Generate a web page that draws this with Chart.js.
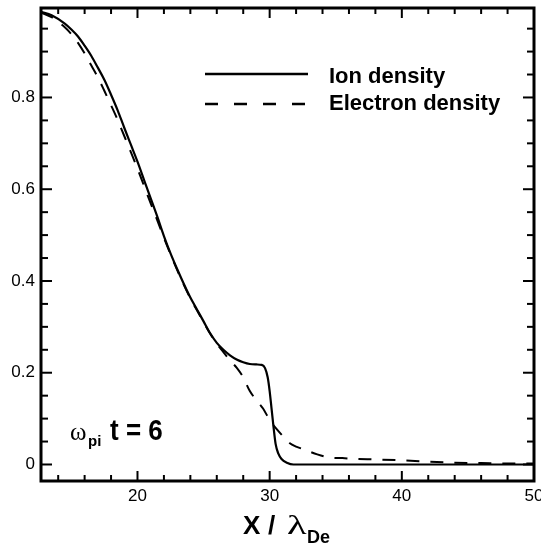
<!DOCTYPE html>
<html>
<head>
<meta charset="utf-8">
<script src="https://cdn.jsdelivr.net/npm/chart.js@4/dist/chart.umd.min.js"></script>
<style>
html, body { margin: 0; padding: 0; background: #fff; overflow: hidden; }
#wrap { width: 560px; height: 547px; }
</style>
</head>
<body>
<div id="wrap"><canvas id="myChart" width="560" height="547"></canvas></div>
<script>
// x / lambda_De  -> density
var xIon = [12.7, 13.5, 14.5, 15.0, 15.5, 16.0, 16.5, 17.0, 17.5, 18.0, 18.5, 19.0, 19.5, 20.0, 20.5, 21.0, 21.5, 22.0, 22.5, 23.0,
            23.5, 24.0, 24.5, 25.0, 25.5, 26.0, 26.5, 27.0, 27.5, 28.0, 28.5, 29.0, 29.4, 29.65, 29.85, 30.0, 30.15, 30.3, 30.45, 30.65,
            30.9, 31.3, 31.8, 50.0];
var ionDensity = [0.987, 0.979, 0.961, 0.948, 0.933, 0.913, 0.891, 0.865, 0.838, 0.806, 0.772, 0.734, 0.697, 0.660, 0.620, 0.580, 0.540, 0.498, 0.460, 0.426,
                  0.394, 0.364, 0.338, 0.312, 0.286, 0.265, 0.250, 0.238, 0.229, 0.223, 0.219, 0.218, 0.217, 0.210, 0.190, 0.160, 0.120, 0.080, 0.045, 0.024,
                  0.012, 0.004, 0.0, 0.0];

var xElectron = [12.7, 13.5, 14.5, 15.0, 15.5, 16.0, 16.5, 17.0, 17.5, 18.0, 18.5, 19.0, 19.5, 20.0, 20.5, 21.0, 21.5, 22.0, 22.5, 23.0,
                 23.5, 24.0, 24.5, 25.0, 25.5, 26.0, 26.5, 27.0, 27.5, 28.0, 28.5, 29.0, 29.5, 30.0, 30.5, 31.0, 31.5, 32.0, 32.6, 33.6,
                 34.6, 35.5, 36.5, 38.0, 40.0, 42.0, 44.0, 46.0, 48.0, 50.0];
var electronDensity = [0.985, 0.975, 0.953, 0.938, 0.919, 0.896, 0.870, 0.844, 0.814, 0.783, 0.751, 0.716, 0.681, 0.645, 0.607, 0.569, 0.532, 0.494, 0.458, 0.424,
                       0.392, 0.362, 0.336, 0.310, 0.285, 0.263, 0.245, 0.227, 0.211, 0.190, 0.160, 0.140, 0.122, 0.097, 0.078, 0.062, 0.047, 0.039, 0.033, 0.022,
                       0.015, 0.014, 0.012, 0.011, 0.009, 0.006, 0.004, 0.003, 0.002, 0.002];

var xTicks = [20, 30, 40, 50];
var yTicks = [0, 0.2, 0.4, 0.6, 0.8];
var seriesNames = ['Ion density', 'Electron density'];

function pairs(xs, ys) {
    return xs.map(function (x, i) { return { x: x, y: ys[i] }; });
}

// frame, inward ticks, legend and text labels
var decor = {
    id: 'decor',
    afterDraw: function (chart) {
        var ctx = chart.ctx, a = chart.chartArea;
        var xs = chart.scales.x, ys = chart.scales.y;
        ctx.save();
        ctx.strokeStyle = '#000';
        ctx.fillStyle = '#000';

        function seg(x1, y1, x2, y2) {
            ctx.beginPath(); ctx.moveTo(x1, y1); ctx.lineTo(x2, y2); ctx.stroke();
        }

        ctx.lineWidth = 2;
        for (var v = 14; v <= 50; v += 2) {
            var px = xs.getPixelForValue(v);
            var len = (v % 10 === 0) ? 10 : 6;
            seg(px, a.bottom, px, a.bottom - len);
            seg(px, a.top, px, a.top + len);
        }
        for (var k = 0; k <= 19; k++) {
            var py = ys.getPixelForValue(k * 0.05);
            var l2 = (k % 4 === 0) ? 11 : 7;
            seg(a.left, py, a.left + l2, py);
            seg(a.right, py, a.right - l2, py);
        }

        ctx.lineWidth = 3;
        ctx.strokeRect(a.left, a.top, a.right - a.left, a.bottom - a.top);

        // legend
        ctx.lineWidth = 2.5;
        seg(205, 74, 308, 74);
        ctx.setLineDash([13, 16]);
        seg(205, 104, 308, 104);
        ctx.setLineDash([]);
        ctx.font = 'bold 22px "Liberation Sans", Arial, sans-serif';
        ctx.textBaseline = 'alphabetic';
        ctx.textAlign = 'left';
        ctx.fillText(seriesNames[0], 329, 83);
        ctx.fillText(seriesNames[1], 329, 110);

        // omega_pi t = 6
        ctx.font = '25px "Liberation Serif", serif';
        ctx.fillText('ω', 70, 440);
        ctx.font = 'bold 15px "Liberation Sans", Arial, sans-serif';
        ctx.fillText('pi', 88, 446);
        ctx.save();
        ctx.translate(110, 440);
        ctx.scale(1, 1.12);
        ctx.font = 'bold 26px "Liberation Sans", Arial, sans-serif';
        ctx.fillText('t = 6', 0, 0);
        ctx.restore();

        // x axis title
        ctx.font = 'bold 26px "Liberation Sans", Arial, sans-serif';
        ctx.fillText('X', 243, 534);
        ctx.fillText('/', 268, 534);
        ctx.save();
        ctx.translate(287, 534);
        ctx.scale(1.45, 1);
        ctx.font = '28px "Liberation Serif", serif';
        ctx.fillText('λ', 0, 0);
        ctx.restore();
        ctx.font = 'bold 18px "Liberation Sans", Arial, sans-serif';
        ctx.fillText('De', 307, 543);

        ctx.restore();
    }
};

var ctx = document.getElementById('myChart').getContext('2d');
var chart = new Chart(ctx, {
    type: 'scatter',
    data: {
        datasets: [{
            label: seriesNames[0],
            data: pairs(xIon, ionDensity),
            showLine: true,
            borderColor: '#000',
            borderWidth: 2.2,
            pointRadius: 0,
            cubicInterpolationMode: 'monotone'
        }, {
            label: seriesNames[1],
            data: pairs(xElectron, electronDensity),
            showLine: true,
            borderColor: '#000',
            borderWidth: 2,
            borderDash: [13, 11],
            pointRadius: 0,
            cubicInterpolationMode: 'monotone'
        }]
    },
    options: {
        responsive: false,
        animation: false,
        devicePixelRatio: 1,
        layout: { padding: { top: 8, right: 26, left: 0, bottom: 0 } },
        plugins: { legend: { display: false }, tooltip: { enabled: false } },
        scales: {
            x: {
                type: 'linear',
                min: 12.7,
                max: 50,
                afterBuildTicks: function (s) { s.ticks = xTicks.map(function (v) { return { value: v }; }); },
                afterFit: function (s) { s.height = 66; },
                grid: { display: false, drawTicks: false },
                border: { display: false },
                ticks: { padding: 5, color: '#000', font: { family: '"Liberation Sans", Arial, sans-serif', size: 17 } }
            },
            y: {
                type: 'linear',
                min: -0.036,
                max: 0.995,
                afterBuildTicks: function (s) { s.ticks = yTicks.map(function (v) { return { value: v }; }); },
                afterFit: function (s) { s.width = 41; s.paddingTop = 0; s.paddingBottom = 0; },
                grid: { display: false, drawTicks: false },
                border: { display: false },
                ticks: {
                    padding: 6, color: '#000', font: { family: '"Liberation Sans", Arial, sans-serif', size: 17 },
                    callback: function (v) { return String(Math.round(v * 10) / 10); }
                }
            }
        }
    },
    plugins: [decor]
});
</script>
</body>
</html>
